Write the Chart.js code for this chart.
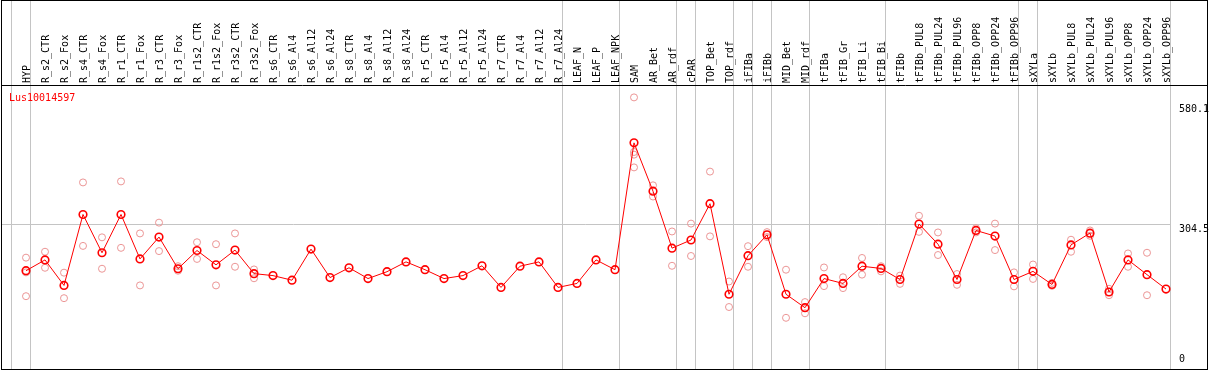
<!DOCTYPE html>
<html>
<head>
<meta charset="utf-8">
<script src="https://cdn.jsdelivr.net/npm/chart.js@4/dist/chart.umd.min.js"></script>
<style>
  html, body { margin: 0; padding: 0; background: #fff; }
  #wrap { width: 1209px; height: 370px; position: relative; }
</style>
</head>
<body>
<div id="wrap"><canvas id="c" width="1209" height="370"></canvas></div>
<script>
// ---------- data ----------
const geneName = "Lus10014597";
const categories = ["HYP","R_s2_CTR","R_s2_Fox","R_s4_CTR","R_s4_Fox","R_r1_CTR","R_r1_Fox","R_r3_CTR","R_r3_Fox","R_r1s2_CTR","R_r1s2_Fox","R_r3s2_CTR","R_r3s2_Fox","R_s6_CTR","R_s6_Al4","R_s6_Al12","R_s6_Al24","R_s8_CTR","R_s8_Al4","R_s8_Al12","R_s8_Al24","R_r5_CTR","R_r5_Al4","R_r5_Al12","R_r5_Al24","R_r7_CTR","R_r7_Al4","R_r7_Al12","R_r7_Al24","LEAF_N","LEAF_P","LEAF_NPK","SAM","AR_Bet","AR_rdf","cPAR","TOP_Bet","TOP_rdf","iFIBa","iFIBb","MID_Bet","MID_rdf","tFIBa","tFIB_Gr","tFIB_Li","tFIB_Bi","tFIBb","tFIBb_PUL8","tFIBb_PUL24","tFIBb_PUL96","tFIBb_OPP8","tFIBb_OPP24","tFIBb_OPP96","sXYLa","sXYLb","sXYLb_PUL8","sXYLb_PUL24","sXYLb_PUL96","sXYLb_OPP8","sXYLb_OPP24","sXYLb_OPP96"];
const meanValues = [203.8,227.3,171.9,325.9,242.8,325.9,229.4,276.9,208.1,247.7,216.6,248.6,197.5,193.2,183.2,250.7,188.9,210.2,186.8,201.7,223.0,206.0,186.8,193.2,214.5,167.6,213.6,223.0,167.6,176.2,227.3,206.0,481.4,376.4,252.8,270.5,349.3,152.7,236.4,281.8,152.7,123.5,186.8,176.2,213.6,208.7,184.7,305.2,261.4,184.7,291.2,279.0,184.7,202.4,174.0,259.9,285.4,157.6,227.3,195.3,164.0];
const rep1 = [232.2,245.0,199.6,395.5,276.3,397.7,284.8,308.2,213.6,265.6,261.4,284.8,206.6,null,null,null,null,null,null,null,null,null,null,null,null,null,null,null,null,null,null,null,580.1,389.2,289.0,306.1,419.0,180.4,257.1,287.6,206.0,135.7,210.9,189.6,231.5,213.6,193.2,323.1,286.9,196.6,296.1,306.1,200.2,217.3,177.4,271.1,291.2,164.6,241.3,242.8,null];
const rep2 = [148.5,210.2,144.2,257.7,208.1,253.5,171.9,246.4,203.8,229.4,171.9,212.4,187.4,null,null,null,null,null,null,null,null,null,null,null,null,null,null,null,null,null,null,null,461.6,364.9,214.5,235.8,278.4,125.0,212.4,276.9,101.6,111.4,170.4,166.1,195.3,202.4,175.3,288.2,237.9,173.2,286.9,248.6,169.8,186.0,171.0,245.0,279.7,150.6,212.4,150.6,null];
const rep3 = [200.2,null,null,null,null,null,null,null,null,null,null,null,null,null,null,null,null,null,null,null,null,null,null,null,null,null,null,null,null,null,null,null,455.8,null,null,null,null,null,null,null,null,null,null,null,null,null,null,null,null,null,null,null,null,null,null,null,null,null,null,null,null];
const rep4 = [null,null,null,null,null,null,null,null,null,null,null,null,null,null,null,null,null,null,null,null,null,null,null,null,null,null,null,null,null,null,null,null,428.1,null,null,null,null,null,null,null,null,null,null,null,null,null,null,null,null,null,null,null,null,null,null,null,null,null,null,null,null];
const yTickValues = [0, 304.5, 580.1];
const yTickLabels = ["0", "304.5", "580.1"];
const gridValue = 304.5;
// index of the last category of each group (-1 = before first)
const groupEnds = [-1, 0, 28, 31, 34, 35, 37, 38, 39, 41, 45, 52, 53, 60];

// ---------- styles ----------
const RED = "#ff0000";
const PINK = "rgb(236,150,150)";
const GRAY = "#c4c4c4";
const MONO = "'DejaVu Sans Mono', 'Liberation Mono', monospace";

const decorPlugin = {
  id: "decor",
  beforeDraw(chart) {
    const ctx = chart.ctx;
    ctx.save();
    ctx.fillStyle = "#fff";
    ctx.fillRect(0, 0, chart.width, chart.height);
    ctx.restore();
  },
  beforeDatasetsDraw(chart) {
    const ctx = chart.ctx, xs = chart.scales.x, ys = chart.scales.y;
    ctx.save();
    ctx.strokeStyle = GRAY;
    ctx.lineWidth = 1;
    // horizontal grid line
    const gy = Math.floor(ys.getPixelForValue(gridValue)) + 0.5;
    const lastX = Math.round(xs.getPixelForValue(groupEnds[groupEnds.length - 1] + 0.21)) + 0.5;
    ctx.beginPath();
    ctx.moveTo(1, gy); ctx.lineTo(lastX, gy);
    ctx.stroke();
    // vertical group separators
    groupEnds.forEach(k => {
      const x = Math.round(xs.getPixelForValue(k + 0.21)) + 0.5;
      ctx.beginPath();
      ctx.moveTo(x, 0); ctx.lineTo(x, 369);
      ctx.stroke();
    });
    ctx.restore();
  },
  afterDraw(chart) {
    const ctx = chart.ctx, xs = chart.scales.x, ys = chart.scales.y, area = chart.chartArea;
    ctx.save();
    // frame
    ctx.strokeStyle = "#000";
    ctx.lineWidth = 1;
    ctx.strokeRect(1.5, 0.5, 1206, 369);
    ctx.beginPath();
    ctx.moveTo(1, 85.5); ctx.lineTo(1207, 85.5);
    ctx.stroke();
    // category labels (rotated)
    ctx.fillStyle = "#000";
    ctx.font = "10px " + MONO;
    ctx.textAlign = "left";
    ctx.textBaseline = "alphabetic";
    categories.forEach((lab, i) => {
      const x = xs.getPixelForValue(i);
      ctx.save();
      ctx.translate(Math.round(x) + 3.5, 83);
      ctx.rotate(-Math.PI / 2);
      ctx.fillText(lab, 0, 0);
      ctx.restore();
    });
    // y tick labels on the right
    ctx.textBaseline = "top";
    yTickValues.forEach((v, i) => {
      let y = ys.getPixelForValue(v);
      y = Math.min(Math.max(y, area.top + 19), area.bottom - 10);
      ctx.fillText(yTickLabels[i], 1179, y);
    });
    // title
    ctx.fillStyle = RED;
    ctx.textBaseline = "alphabetic";
    ctx.fillText(geneName, 9, 101);
    ctx.restore();
  }
};

function repSet(arr) {
  return {
    type: "line",
    data: arr,
    showLine: false,
    borderColor: PINK,
    backgroundColor: "rgba(0,0,0,0)",
    pointRadius: 3.5,
    pointBorderWidth: 1,
    pointBorderColor: PINK,
    pointBackgroundColor: "rgba(0,0,0,0)",
    pointHoverRadius: 3.5,
    clip: false,
    order: 2
  };
}

new Chart(document.getElementById("c"), {
  type: "line",
  data: {
    labels: categories,
    datasets: [
      {
        data: meanValues,
        borderColor: RED,
        borderWidth: 1,
        tension: 0,
        pointRadius: 3.8,
        pointBorderWidth: 1.6,
        pointBorderColor: RED,
        pointBackgroundColor: "rgba(0,0,0,0)",
        pointHoverRadius: 3.8,
        clip: false,
        order: 1
      },
      repSet(rep1), repSet(rep2), repSet(rep3), repSet(rep4)
    ]
  },
  options: {
    responsive: false,
    animation: false,
    events: [],
    layout: { padding: { left: 26, right: 43, top: 85, bottom: 0 } },
    plugins: { legend: { display: false }, tooltip: { enabled: false }, title: { display: false } },
    scales: {
      x: { type: "category", display: false, offset: false },
      y: { type: "linear", display: false, min: 0, max: 607 }
    }
  },
  plugins: [decorPlugin]
});
</script>
</body>
</html>
